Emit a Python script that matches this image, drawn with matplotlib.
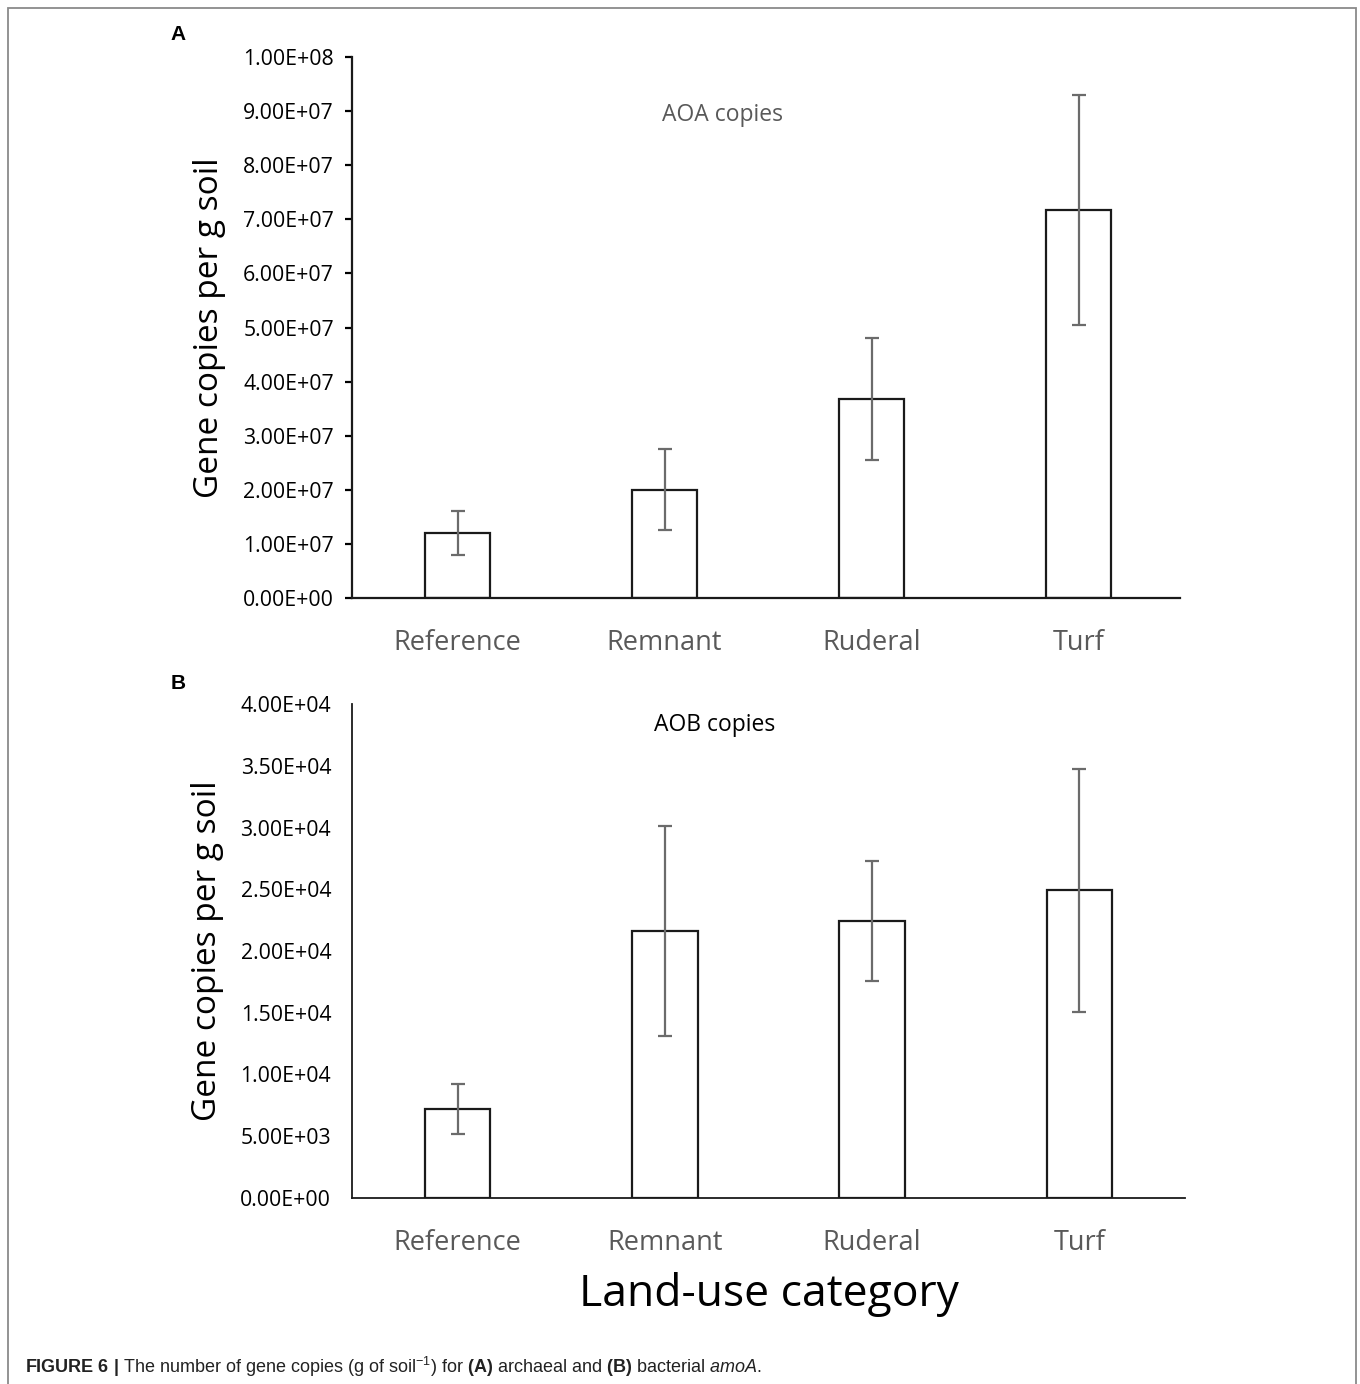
import matplotlib
matplotlib.use("Agg")
import matplotlib.pyplot as plt
from matplotlib.patches import Rectangle
import numpy as np

categories = ["Reference", "Remnant", "Ruderal", "Turf"]
aoa_values = [1.20e7, 2.00e7, 3.68e7, 7.17e7]
aoa_errors = [0.41e7, 0.75e7, 1.13e7, 2.13e7]
aob_values = [7.2e3, 21.6e3, 22.4e3, 24.9e3]
aob_errors = [2.0e3, 8.5e3, 4.85e3, 9.8e3]
aoa_ticks = [i * 1e7 for i in range(11)]
aob_ticks = [i * 5e3 for i in range(9)]

plt.rcParams['font.family'] = ['Open Sans', 'DejaVu Sans']
plt.rcParams['mathtext.fontset'] = 'custom'
plt.rcParams['mathtext.rm'] = 'Liberation Sans'
plt.rcParams['mathtext.bf'] = 'Liberation Sans:bold'
plt.rcParams['mathtext.it'] = 'Liberation Sans:italic'

W, H = 1360, 1384
fig = plt.figure(figsize=(W / 100, H / 100), dpi=100)

def fx(px):
    return px / W

def fy(py):
    return 1 - py / H

# outer frame
fig.patches.append(Rectangle((fx(8), fy(1400)), fx(1356) - fx(8), fy(8) - fy(1400),
                             transform=fig.transFigure, fill=False,
                             edgecolor='#8a8a8a', linewidth=1.3, clip_on=False))

x = np.arange(len(categories))
tick_grey = '#595959'
err_grey = '#6b6b6b'

def fmt(v):
    return f"{v:.2E}"

def panel(rect, values, errors, ticks, ymax, label, label_color, label_xy, spine_lw, show_ticks, xlim):
    ax = fig.add_axes(rect)
    ax.bar(x, values, width=0.315, color='white', edgecolor='#1a1a1a', linewidth=1.6, zorder=2)
    ax.errorbar(x, values, yerr=errors, fmt='none', ecolor=err_grey, elinewidth=1.6,
                capsize=5, capthick=1.6, zorder=3)
    ax.set_xlim(*xlim)
    ax.set_ylim(0, ymax)
    ax.set_yticks(ticks)
    ax.set_yticklabels([fmt(t) for t in ticks], fontsize=15.3, color='black')
    ax.set_xticks(x)
    ax.set_xticklabels(categories, fontsize=19.5, color=tick_grey)
    for s in ['top', 'right']:
        ax.spines[s].set_visible(False)
    for s in ['left', 'bottom']:
        ax.spines[s].set_linewidth(spine_lw)
        ax.spines[s].set_color('#1a1a1a')
    ax.tick_params(axis='x', length=0, pad=22)
    if show_ticks:
        ax.tick_params(axis='y', direction='out', length=5, width=spine_lw, pad=8)
    else:
        ax.tick_params(axis='y', length=0, pad=15)
    ax.set_ylabel("Gene copies per g soil", fontsize=24, color='black', labelpad=12)
    ax.text(label_xy[0], label_xy[1], label, transform=fig.transFigure,
            fontsize=16.5, color=label_color, ha='center', va='center')
    return ax

axA = panel([fx(352), fy(598), fx(1180) - fx(352), fy(57) - fy(598)],
            aoa_values, aoa_errors, aoa_ticks, 1e8, "AOA copies", '#595959',
            (fx(722), fy(115)), 1.6, True, (-0.51, 3.49))
axB = panel([fx(352), fy(1198), fx(1185) - fx(352), fy(704) - fy(1198)],
            aob_values, aob_errors, aob_ticks, 4e4, "AOB copies", 'black',
            (fx(715), fy(725)), 1.3, False, (-0.51, 3.51))

axB.set_xlabel("Land-use category", fontsize=32, color='black', labelpad=11)

fig.text(fx(178), fy(35), "A", fontsize=15, fontweight='bold', family='Liberation Sans',
         ha='center', va='center')
fig.text(fx(178), fy(683), "B", fontsize=15, fontweight='bold', family='Liberation Sans',
         ha='center', va='center')

caption = (r"$\mathbf{FIGURE\ 6}$ $\mathbf{|}$ The number of gene copies (g of soil$^{-1}$) for "
           r"$\mathbf{(A)}$ archaeal and $\mathbf{(B)}$ bacterial $\mathit{amoA}$.")
fig.text(fx(25), fy(1367), caption, fontsize=13,
         family=['Liberation Sans', 'DejaVu Sans'],
         color='#222222', ha='left', va='center')

fig.savefig("out.png", dpi=100, facecolor='white')
